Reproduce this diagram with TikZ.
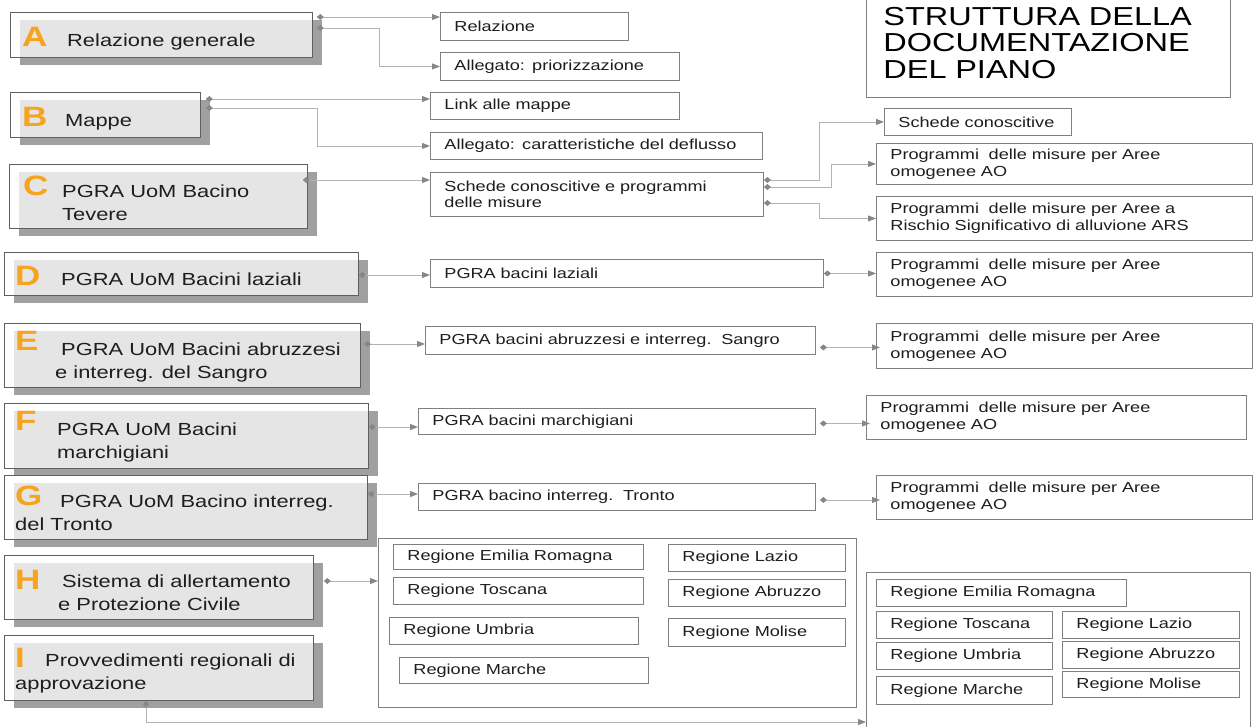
\documentclass[tikz,border=0pt]{standalone}
\usepackage{fontspec}
\setmainfont{Liberation Sans}[FakeStretch=1.25]
\usepackage{tikz}
\usetikzlibrary{arrows.meta}

\definecolor{cardline}{RGB}{95,95,95}
\definecolor{cardface}{RGB}{229,229,229}
\definecolor{cardshadow}{RGB}{160,160,160}
\definecolor{boxline}{RGB}{128,128,128}
\definecolor{linkgray}{RGB}{180,180,180}
\definecolor{tipgray}{RGB}{135,135,135}
\definecolor{letterorange}{RGB}{246,163,30}
\definecolor{inkgray}{RGB}{30,30,30}

\newcommand{\leftcard}[5]{%
	\fill[cardshadow] (#2+10,#3+8) rectangle (#4+10,#5+8);
	\fill[cardface] (#2+10,#3+8) rectangle (#4,#5);
	\pgfmathsetmacro\cardw{#4-#2}\pgfmathsetmacro\cardh{#5-#3}
	\node[card, minimum width=\cardw pt, minimum height=\cardh pt] (#1) at (#2,#3) {};
}
\newcommand{\docbox}[6]{%
	\pgfmathsetmacro\boxw{#4-#2}\pgfmathsetmacro\boxh{#5-#3}\pgfmathsetmacro\boxtw{#4-#2-28}
	\node[docbox, minimum width=\boxw pt, minimum height=\boxh pt, text width=\boxtw pt] (#1) at (#2,#3) {#6};
}

\begin{document}
\begin{tikzpicture}[
				      x=1pt, y=-1pt,
				      card/.style = {draw=cardline, line width=0.8pt, anchor=north west, inner sep=0pt},
				      letter/.style = {anchor=base west, inner sep=0pt, text=letterorange,
						      font=\fontsize{28}{28}\selectfont\bfseries},
				      cardtext/.style = {anchor=base west, inner sep=0pt, align=left, text=inkgray,
						      font=\fontsize{17.5}{23}\selectfont},
				      docbox/.style = {draw=boxline, line width=0.9pt, anchor=north west,
						      inner xsep=14pt, inner ysep=0pt, align=left, text=inkgray,
						      font=\fontsize{14.5}{16.7}\selectfont},
				      frame/.style = {draw=boxline, line width=0.9pt, anchor=north west, inner sep=0pt},
				      conn/.style = {draw=linkgray, line width=0.9pt,
						      {Diamond[length=7pt,width=6pt,color=tipgray]}-{Triangle[length=8pt,width=6pt,color=tipgray]}}
			      ]
			      \path[use as bounding box, fill=white] (0,0) rectangle (1253,726);

			      \leftcard{A}{10}{12}{312}{57}
			      \leftcard{B}{10}{92}{200}{137}
			      \leftcard{C}{9}{164}{307}{228}
			      \leftcard{D}{4}{252}{358}{295}
			      \leftcard{E}{4}{323}{360}{387}
			      \leftcard{F}{4}{403}{368}{468}
			      \leftcard{G}{4}{475}{367}{539}
			      \leftcard{H}{4}{555}{313}{619}
			      \leftcard{I}{4}{635}{313}{700}

			      \node[letter] (A-l) at (22,46) {A};
			      \node[cardtext] (A-t) at (67,46) {Relazione generale};
			      \node[letter] (B-l) at (22,126) {B};
			      \node[cardtext] (B-t) at (65,126) {Mappe};
			      \node[letter] (C-l) at (23,195) {C};
			      \node[cardtext] (C-t) at (62,220) {PGRA UoM Bacino\\Tevere};
			      \node[letter] (D-l) at (15,285) {D};
			      \node[cardtext] (D-t) at (61,285) {PGRA UoM Bacini laziali};
			      \node[letter] (E-l) at (15,350) {E};
			      \node[cardtext] (E-t) at (61,378) {PGRA UoM Bacini abruzzesi\\\hspace*{-6pt}e interreg. del Sangro};
			      \node[letter] (F-l) at (15,430) {F};
			      \node[cardtext] (F-t) at (57,458) {PGRA UoM Bacini\\marchigiani};
			      \node[letter] (G-l) at (15,505) {G};
			      \node[cardtext] (G-t) at (60,530) {PGRA UoM Bacino interreg.\\\hspace*{-45pt}del Tronto};
			      \node[letter] (H-l) at (15,589) {H};
			      \node[cardtext] (H-t) at (62,610) {Sistema di allertamento\\\hspace*{-4pt}e Protezione Civile};
			      \node[letter] (I-l) at (15,667) {I};
			      \node[cardtext] (I-t) at (45,689) {Provvedimenti regionali di\\\hspace*{-30pt}approvazione};

			      \node[frame, anchor=south west, minimum width=364pt, align=left, text width=330pt,
				      inner xsep=17pt, inner ysep=19pt, text=black,
				      font=\fontsize{26}{26.5}\selectfont] (title) at (866,98)
				      {STRUTTURA DELLA\\DOCUMENTAZIONE\\DEL PIANO};

			      \docbox{rel}{440}{12}{628}{40}{Relazione}
			      \docbox{allp}{440}{52}{679}{80}{Allegato: priorizzazione}
			      \docbox{link}{430}{92}{679}{119}{Link alle mappe}
			      \docbox{allc}{430}{132}{762}{159}{Allegato: caratteristiche del deflusso}
			      \docbox{sch}{430}{172}{763}{216}{Schede conoscitive e programmi\\delle misure}
			      \docbox{laz}{430}{259}{823}{287}{PGRA bacini laziali}
			      \docbox{abr}{425}{326}{815}{354}{PGRA bacini abruzzesi e interreg.~~Sangro}
			      \docbox{mar}{418}{408}{815}{434}{PGRA bacini marchigiani}
			      \docbox{tro}{418}{483}{815}{510}{PGRA bacino interreg.~~Tronto}

			      \docbox{sk}{884}{108}{1071}{135}{Schede conoscitive}
			      \docbox{ao1}{876}{143}{1252}{184}{Programmi~~delle misure per Aree\\omogenee AO}
			      \docbox{ars}{876}{196}{1252}{240}{Programmi~~delle misure per Aree a\\Rischio Significativo di alluvione ARS}
			      \docbox{ao2}{876}{252}{1252}{296}{Programmi~~delle misure per Aree\\omogenee AO}
			      \docbox{ao3}{876}{323}{1252}{368}{Programmi~~delle misure per Aree\\omogenee AO}
			      \docbox{ao4}{866}{395}{1246}{439}{Programmi~~delle misure per Aree\\omogenee AO}
			      \docbox{ao5}{876}{475}{1252}{519}{Programmi~~delle misure per Aree\\omogenee AO}

			      \node[frame, minimum width=478pt, minimum height=169pt] (reg1) at (378,538) {};
			      \docbox{emi1}{393}{544}{643}{569}{Regione Emilia Romagna}
			      \docbox{tos1}{393}{577}{643}{604}{Regione Toscana}
			      \docbox{umb1}{389}{617}{638}{644}{Regione Umbria}
			      \docbox{mar1}{399}{657}{648}{683}{Regione Marche}
			      \docbox{laz1}{668}{544}{845}{571}{Regione Lazio}
			      \docbox{abr1}{668}{579}{845}{606}{Regione Abruzzo}
			      \docbox{mol1}{668}{618}{845}{646}{Regione Molise}

			      \node[frame, minimum width=384pt, minimum height=170pt] (reg2) at (866,572) {};
			      \docbox{emi2}{876}{579}{1126}{606}{Regione Emilia Romagna}
			      \docbox{tos2}{876}{611}{1052}{638}{Regione Toscana}
			      \docbox{umb2}{876}{642}{1052}{669}{Regione Umbria}
			      \docbox{mar2}{876}{676}{1052}{704}{Regione Marche}
			      \docbox{laz2}{1062}{611}{1239}{638}{Regione Lazio}
			      \docbox{abr2}{1062}{641}{1239}{668}{Regione Abruzzo}
			      \docbox{mol2}{1062}{671}{1239}{697}{Regione Molise}

			      \coordinate (a1) at ([shift={(4,5)}]A.north east);
			      \coordinate (a2) at ([shift={(4,16)}]A.north east);
			      \coordinate (b1) at ([shift={(5,7)}]B.north east);
			      \coordinate (b2) at ([shift={(5,16)}]B.north east);
			      \coordinate (c1) at ([shift={(-5,16)}]C.north east);
			      \coordinate (s1) at ([shift={(0,8)}]sch.north east);
			      \coordinate (s2) at ([shift={(0,15)}]sch.north east);
			      \coordinate (s3) at ([shift={(0,31)}]sch.north east);
			      \coordinate (d1) at ([shift={(0,23)}]D.north east);
			      \coordinate (e1) at ([shift={(3,21)}]E.north east);
			      \coordinate (f1) at ([shift={(0,24)}]F.north east);
			      \coordinate (g1) at ([shift={(0,19)}]G.north east);
			      \coordinate (h1) at ([shift={(10,26)}]H.north east);
			      \coordinate (i1) at ([shift={(142,0)}]I.south west);

			      \draw[conn] (a1) -- (a1 -| rel.west);
			      \draw[conn] (a2) -- ++(63,0) |- (allp.west);
			      \draw[conn] (b1) -- (b1 -| link.west);
			      \draw[conn] (b2) -- ++(112,0) |- (allc.west);
			      \draw[conn] (c1) -- (c1 -| sch.west);
			      \draw[conn] (s1) -- ++(56,0) |- (sk.west);
			      \draw[conn] (s2) -- ++(68,0) |- (ao1.west);
			      \draw[conn] (s3) -- ++(56,0) |- (ars.west);
			      \draw[conn] (d1) -- (d1 -| laz.west);
			      \draw[conn] (laz.east) -- (laz.east -| ao2.west);
			      \draw[conn] (e1) -- (e1 -| abr.west);
			      \draw[conn] ([shift={(4,7)}]abr.east) -- ([shift={(4,7)}]abr.east -| ao3.west);
			      \draw[conn] (f1) -- (f1 -| mar.west);
			      \draw[conn] ([shift={(4,2)}]mar.east) -- ([shift={(4,2)}]mar.east -| ao4.west);
			      \draw[conn] (g1) -- (g1 -| tro.west);
			      \draw[conn] ([shift={(4,3)}]tro.east) -- ([shift={(4,3)}]tro.east -| ao5.west);
			      \draw[conn] (h1) -- (h1 -| reg1.west);
			      \draw[conn] (i1) |- ([shift={(0,150)}]reg2.north west);
		      \end{tikzpicture}
\end{document}
